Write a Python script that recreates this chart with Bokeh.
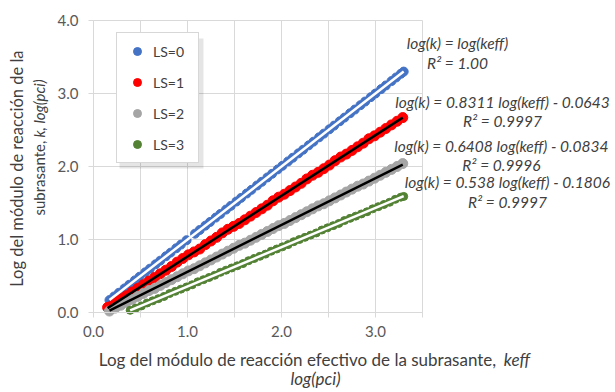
import math
from bokeh.plotting import figure
from bokeh.models import (Range1d, FixedTicker, PrintfTickFormatter, Legend, LegendItem,
                          Label, BoxAnnotation)
from bokeh.embed import file_html
from bokeh.resources import INLINE

# ---------------- data ----------------
series_names = ["LS=0", "LS=1", "LS=2", "LS=3"]
series_colors = ["#4472C4", "#FF0000", "#A5A5A5", "#548235"]
trend_colors = ["#FFFFFF", "#000000", "#000000", "#FFFFFF"]

x0 = [0.17, 0.22, 0.27, 0.33, 0.38, 0.44, 0.49, 0.55, 0.60, 0.66, 0.71, 0.77, 0.82, 0.88,
      0.93, 0.99, 1.08, 1.13, 1.19, 1.24, 1.30, 1.35, 1.41, 1.46, 1.52, 1.57, 1.63, 1.68,
      1.74, 1.79, 1.85, 1.90, 1.96, 2.01, 2.07, 2.12, 2.18, 2.23, 2.29, 2.34, 2.40, 2.45,
      2.51, 2.56, 2.62, 2.67, 2.73, 2.78, 2.84, 2.89, 2.95, 3.00, 3.06, 3.11, 3.17, 3.22,
      3.27, 3.30]
y0 = [0.17, 0.22, 0.27, 0.33, 0.38, 0.44, 0.49, 0.55, 0.60, 0.66, 0.71, 0.77, 0.82, 0.88,
      0.93, 0.99, 1.08, 1.13, 1.19, 1.24, 1.30, 1.35, 1.41, 1.46, 1.52, 1.57, 1.63, 1.68,
      1.74, 1.79, 1.85, 1.90, 1.96, 2.01, 2.07, 2.12, 2.18, 2.23, 2.29, 2.34, 2.40, 2.45,
      2.51, 2.56, 2.62, 2.67, 2.73, 2.78, 2.84, 2.89, 2.95, 3.00, 3.06, 3.11, 3.17, 3.22,
      3.27, 3.30]

x1 = [0.15, 0.20, 0.25, 0.30, 0.35, 0.41, 0.47, 0.53, 0.59, 0.65, 0.71, 0.77, 0.83, 0.89,
      0.95, 1.01, 1.07, 1.13, 1.19, 1.25, 1.31, 1.37, 1.43, 1.49, 1.55, 1.61, 1.67, 1.73,
      1.79, 1.85, 1.91, 1.97, 2.03, 2.09, 2.15, 2.21, 2.27, 2.33, 2.39, 2.45, 2.51, 2.57,
      2.63, 2.69, 2.75, 2.81, 2.87, 2.93, 2.99, 3.05, 3.11, 3.17, 3.23, 3.29]
y1 = [0.07, 0.10, 0.15, 0.19, 0.23, 0.28, 0.33, 0.38, 0.43, 0.48, 0.53, 0.58, 0.63, 0.69,
      0.74, 0.79, 0.83, 0.87, 0.93, 0.98, 1.03, 1.09, 1.14, 1.18, 1.22, 1.27, 1.32, 1.37,
      1.42, 1.47, 1.53, 1.58, 1.62, 1.67, 1.72, 1.77, 1.83, 1.88, 1.92, 1.97, 2.02, 2.08,
      2.13, 2.17, 2.22, 2.27, 2.32, 2.38, 2.42, 2.47, 2.52, 2.57, 2.62, 2.67]

x2 = [0.17, 0.23, 0.29, 0.35, 0.41, 0.47, 0.53, 0.59, 0.65, 0.71, 0.77, 0.83, 0.89, 0.95,
      1.01, 1.07, 1.13, 1.19, 1.25, 1.31, 1.37, 1.43, 1.49, 1.55, 1.61, 1.67, 1.73, 1.79,
      1.85, 1.91, 1.97, 2.03, 2.09, 2.15, 2.21, 2.27, 2.33, 2.39, 2.45, 2.51, 2.57, 2.63,
      2.69, 2.75, 2.81, 2.87, 2.93, 2.99, 3.05, 3.11, 3.17, 3.23, 3.29]
y2 = [0.02, 0.06, 0.10, 0.14, 0.18, 0.22, 0.26, 0.30, 0.33, 0.37, 0.41, 0.45, 0.49, 0.53,
      0.57, 0.60, 0.64, 0.68, 0.72, 0.76, 0.80, 0.84, 0.88, 0.92, 0.95, 0.99, 1.03, 1.07,
      1.11, 1.15, 1.19, 1.22, 1.26, 1.30, 1.34, 1.38, 1.42, 1.46, 1.49, 1.53, 1.57, 1.61,
      1.65, 1.69, 1.73, 1.76, 1.80, 1.84, 1.88, 1.92, 1.96, 2.00, 2.04]

x3 = [0.39, 0.45, 0.51, 0.57, 0.63, 0.69, 0.75, 0.81, 0.87, 0.93, 0.99, 1.05, 1.11, 1.17,
      1.23, 1.29, 1.35, 1.41, 1.47, 1.53, 1.59, 1.65, 1.71, 1.77, 1.83, 1.89, 1.95, 2.01,
      2.07, 2.13, 2.19, 2.25, 2.31, 2.37, 2.43, 2.49, 2.55, 2.61, 2.67, 2.73, 2.79, 2.85,
      2.91, 2.97, 3.03, 3.09, 3.15, 3.21, 3.27, 3.30]
y3 = [0.03, 0.06, 0.09, 0.13, 0.16, 0.19, 0.22, 0.26, 0.29, 0.32, 0.35, 0.38, 0.42, 0.45,
      0.48, 0.51, 0.55, 0.58, 0.61, 0.64, 0.67, 0.71, 0.74, 0.77, 0.80, 0.84, 0.87, 0.90,
      0.93, 0.97, 1.00, 1.03, 1.06, 1.09, 1.13, 1.16, 1.19, 1.22, 1.26, 1.29, 1.32, 1.35,
      1.38, 1.42, 1.45, 1.48, 1.51, 1.55, 1.58, 1.59]

slopes = [1.0, 0.8311, 0.6408, 0.538]
intercepts = [0.0, -0.0643, -0.0834, -0.1806]
eq_texts = ["log(k) = log(keff)", "log(k) = 0.8311 log(keff) - 0.0643",
            "log(k) = 0.6408 log(keff) - 0.0834", "log(k) = 0.538 log(keff) - 0.1806"]
r2_texts = ["R\u00b2 = 1.00", "R\u00b2 = 0.9997", "R\u00b2 = 0.9996", "R\u00b2 = 0.9997"]

x_ticks = [0.0, 1.0, 2.0, 3.0]
x_minor = [0.5, 1.5, 2.5, 3.5]
y_ticks = [0.0, 1.0, 2.0, 3.0, 4.0]
x_lim = (0.0, 3.5)
y_lim = (0.0, 4.0)

xs = [x0, x1, x2, x3]
ys = [y0, y1, y2, y3]

FONT = "Lato"
TXT = "#404040"

W, H = 615, 392
# plot area inside the canvas (pixels): left, right, top, bottom
PX_L, PX_R, PX_T, PX_B = 93, 422, 20, 312
sx = (PX_R - PX_L) / (x_lim[1] - x_lim[0])
sy = (PX_B - PX_T) / (y_lim[1] - y_lim[0])
xr = Range1d(x_lim[0] - PX_L / sx, x_lim[1] + (W - PX_R) / sx)
yr = Range1d(y_lim[0] - (H - PX_B) / sy, y_lim[1] + PX_T / sy)

p = figure(width=W, height=H, output_backend="svg", toolbar_location=None,
           x_range=xr, y_range=yr,
           min_border_left=0, min_border_right=0, min_border_top=0, min_border_bottom=0)
p.outline_line_color = None

# axes at fixed data locations
for ax in (p.xaxis[0], p.yaxis[0]):
    ax.fixed_location = 0.0
    ax.axis_line_color = "#d9d9d9"
    ax.major_tick_line_color = "#d9d9d9"
    ax.minor_tick_line_color = "#d9d9d9"
    ax.major_tick_in = 0
    ax.major_tick_out = 5
    ax.minor_tick_in = 0
    ax.minor_tick_out = 5
    ax.major_label_text_font = FONT
    ax.major_label_text_font_size = "15px"
    ax.major_label_text_color = "#595959"
    ax.formatter = PrintfTickFormatter(format="%.1f")
p.xaxis[0].bounds = x_lim
p.yaxis[0].bounds = y_lim
p.xaxis[0].ticker = FixedTicker(ticks=x_ticks, minor_ticks=x_minor)
p.yaxis[0].ticker = FixedTicker(ticks=y_ticks, minor_ticks=[])
p.xaxis[0].major_label_standoff = 8
p.yaxis[0].major_label_standoff = 10

p.xgrid[0].ticker = FixedTicker(ticks=sorted(x_ticks + x_minor))
p.ygrid[0].ticker = FixedTicker(ticks=y_ticks)
p.xgrid[0].bounds = x_lim
p.ygrid[0].bounds = y_lim
p.xgrid[0].cross_bounds = y_lim
p.ygrid[0].cross_bounds = x_lim
p.xgrid[0].grid_line_color = "#d9d9d9"
p.ygrid[0].grid_line_color = "#d9d9d9"

# legend shadow
p.add_layout(BoxAnnotation(left=0.277, right=1.17, top=3.753, bottom=1.973,
                           fill_color="#000000", fill_alpha=0.10, line_color=None))

items = []
sizes = [9, 10, 10, 8]
for i in range(4):
    r = p.scatter(xs[i], ys[i], size=sizes[i], marker="circle",
                  fill_color=series_colors[i], line_color=series_colors[i])
    items.append(LegendItem(label=series_names[i], renderers=[r]))
for i in range(4):
    xa, xb = min(xs[i]), max(xs[i])
    p.line([xa, xb], [slopes[i] * xa + intercepts[i], slopes[i] * xb + intercepts[i]],
           line_color=trend_colors[i], line_width=2.5)

legend = Legend(items=items, location=(116, H - 35 - 128), label_text_font=FONT,
                label_text_font_size="14px", label_text_color=TXT,
                glyph_width=24, glyph_height=20, label_height=20, label_width=37, spacing=11,
                padding=8, label_standoff=4, border_line_color="#b0b0b0",
                background_fill_color="white", background_fill_alpha=1.0, margin=0)
p.add_layout(legend)

# equations (italic), right of plot
eq_pos = [(3.872, 3.685, 3.411), (4.351, 2.877, 2.630), (4.340, 2.274, 2.014), (4.404, 1.781, 1.507)]
for i in range(4):
    ex, ey, ry = eq_pos[i]
    p.add_layout(Label(x=ex, y=ey, text=eq_texts[i], text_font=FONT, text_font_style="italic",
                       text_font_size="15.5px", text_color=TXT, text_align="center",
                       text_baseline="middle"))
    p.add_layout(Label(x=ex, y=ry, text=r2_texts[i], text_font=FONT, text_font_style="italic",
                       text_font_size="15.5px", text_color=TXT, text_align="center",
                       text_baseline="middle"))

# x axis title (two lines, mixed style)
p.add_layout(Label(x=4.33, y=-0.644, text="Log  del m\u00f3dulo de reacci\u00f3n efectivo de la subrasante,",
                   text_font=FONT, text_font_size="17px", text_color=TXT,
                   text_align="right", text_baseline="middle"))
p.add_layout(Label(x=4.365, y=-0.644, text="keff", text_font=FONT, text_font_style="italic",
                   text_font_size="17px", text_color=TXT, text_align="left", text_baseline="middle"))
p.add_layout(Label(x=2.362, y=-0.905, text="log(pci)", text_font=FONT, text_font_style="italic",
                   text_font_size="17px", text_color=TXT, text_align="center", text_baseline="middle"))

# y axis title (two lines, rotated)
p.add_layout(Label(x=-0.819, y=2.0, text="Log  del m\u00f3dulo de reacci\u00f3n de la",
                   text_font=FONT, text_font_size="16.5px", text_color=TXT, angle=math.pi / 2,
                   text_align="center", text_baseline="middle"))
p.add_layout(Label(x=-0.585, y=1.329, text="subrasante,",
                   text_font=FONT, text_font_size="15px", text_color=TXT, angle=math.pi / 2,
                   text_align="left", text_baseline="middle"))
p.add_layout(Label(x=-0.585, y=2.397, text="k, log(pci)", text_font=FONT, text_font_style="italic",
                   text_font_size="15px", text_color=TXT, angle=math.pi / 2,
                   text_align="left", text_baseline="middle"))

open("out.html", "w").write(file_html(p, INLINE))
